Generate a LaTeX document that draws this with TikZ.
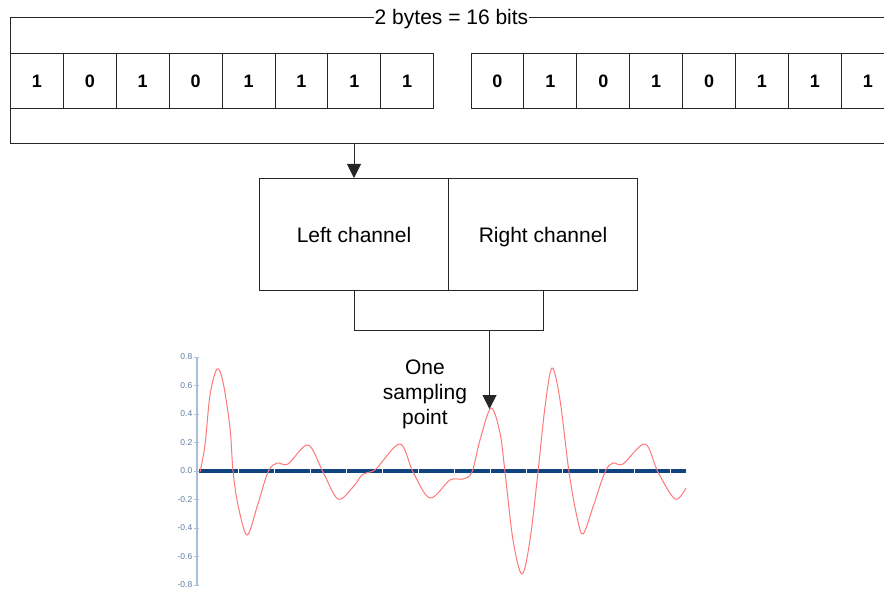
\documentclass[tikz,border=0pt]{standalone}
\usepackage{fontspec}
\setmainfont{Liberation Sans}
\usetikzlibrary{arrows.meta}
\definecolor{axisblue}{RGB}{168,190,216}
\definecolor{ticktext}{RGB}{96,124,160}
\definecolor{zeroblue}{RGB}{14,68,128}
\definecolor{wave}{RGB}{255,120,120}
\begin{document}
\begin{tikzpicture}[x=1pt,y=-1pt,
  line/.style={line width=1pt, draw=black!85},
  bitcell/.style={line, rectangle, minimum width=52.9pt, minimum height=55pt,
    inner sep=0pt, anchor=north west, font=\fontsize{18}{18}\selectfont\bfseries},
  chanbox/.style={line, rectangle, minimum width=189pt, minimum height=112pt,
    inner sep=0pt, anchor=north west, font=\fontsize{21}{25}\selectfont,
    text height=15pt, text depth=0pt},
  tip/.style={-{Triangle[length=14pt,width=14pt]}},
  lbl/.style={font=\fontsize{21}{25}\selectfont},
  ticklbl/.style={font=\fontsize{8.5}{9}\selectfont, text=ticktext, anchor=east, inner sep=0pt}
]
\useasboundingbox (0,0) rectangle (884,591);
\clip (0,0) rectangle (884,591);

% 16-bit frame
\coordinate (ftl) at (10,18);
\coordinate (fbl) at (10,144);
\coordinate (ftr) at (900,18);
\coordinate (fbr) at (900,144);
\node[lbl, anchor=base, inner sep=1pt] (bytes) at (451.5,25) {2 bytes = 16 bits};
\draw[line] (bytes.west |- ftl) -- (ftl) -- (fbl) -- (fbr);
\draw[line] (bytes.east |- ftr) -- (ftr);

% the two bytes
\foreach \b [count=\i] in {1,0,1,0,1,1,1,1}
  \node[bitcell] (l\i) at ({10+52.9*(\i-1)},53.5) {\b};
\foreach \b [count=\i] in {0,1,0,1,0,1,1,1}
  \node[bitcell] (r\i) at ({470.5+52.9*(\i-1)},53.5) {\b};

% channels
\node[chanbox] (lc) at (259,178) {Left channel};
\node[chanbox] (rc) at (448,178) {Right channel};
\draw[line, tip] (lc.north |- fbl) -- (lc.north);

% merge into one sample
\coordinate (mj) at (489.5,330.5);
\coordinate (peak) at (490,409);
\draw[line] (lc.south) -- (lc.south |- mj) -- (rc.south |- mj) -- (rc.south);
\draw[line, tip] (mj) -- (mj |- peak);
\node[lbl, align=center, anchor=north, inner sep=0pt] (samp) at (425,359.5) {One\\sampling\\point};

% waveform chart
\draw[axisblue, line width=2.5pt] (197,357) -- (197,585);
\foreach \v [count=\k] in {0.8,0.6,0.4,0.2,0.0,-0.2,-0.4,-0.6,-0.8} {
  \draw[axisblue, line width=1pt] (193.5,{471-\v*142.5}) -- (199,{471-\v*142.5});
  \node[ticklbl] (t\k) at (192.5,{471-\v*142.5}) {\v};
}
\draw[zeroblue, line width=4pt] (199,471) -- (686,471);
\foreach \x in {238,274,...,670}
  \draw[white, line width=0.8pt] (\x,468.5) -- (\x,473.5);

\draw[wave, line width=1pt] plot[smooth, tension=0.55] coordinates {
  (200,472) (205,445) (210,395) (217,369) (223,382) (230,428) (233,471)
  (238,505) (247,535) (257,507) (268,472) (277,463) (288,464) (308,445)
  (323,472) (338,499) (353,487) (362,475) (370,472) (377,468) (400,444)
  (413,472) (430,498) (450,480) (463,479) (472,472) (480,440) (491,408)
  (500,433) (505,472) (513,540) (522,574) (530,540) (538,472) (545,407)
  (552,368) (560,400) (569,472) (577,517) (583,534) (593,507) (605,472)
  (613,463) (623,464) (645,444) (658,472) (675,499) (686,488)};
\end{tikzpicture}
\end{document}
